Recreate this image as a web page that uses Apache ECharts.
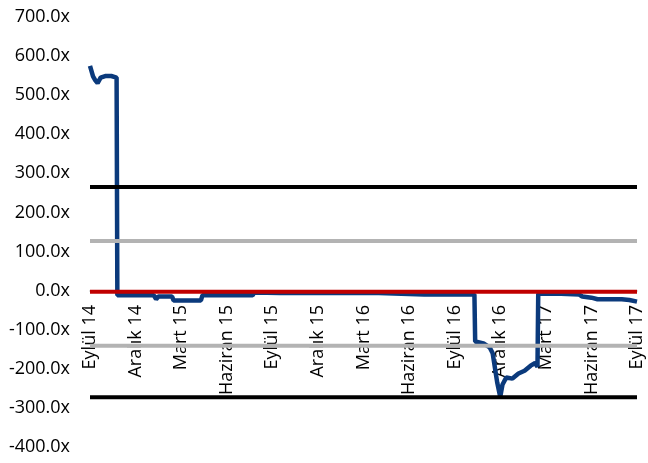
<!DOCTYPE html>
<html>
<head>
<meta charset="utf-8">
<script src="https://cdn.jsdelivr.net/npm/echarts@6/dist/echarts.min.js"></script>
<style>
  html, body { margin: 0; padding: 0; background: #fff; }
  #main { width: 648px; height: 463px; }
</style>
</head>
<body>
<div id="main"></div>
<script>
// quarterly tick labels, one every 3 months starting Sep 2014
let tickLabels = ['Eylül 14', 'Aralık 14', 'Mart 15', 'Haziran 15', 'Eylül 15', 'Aralık 15',
    'Mart 16', 'Haziran 16', 'Eylül 16', 'Aralık 16', 'Mart 17', 'Haziran 17', 'Eylül 17'];

// months since Sep 2014 and the ratio
let months = [0, 0.2, 0.35, 0.5, 0.7, 1.0, 1.4, 1.75, 1.8, 2.5, 3.5, 4.2, 4.35, 4.5, 5.4, 5.5, 7.3, 7.4,
    10.7, 10.8, 12.5, 15, 19.0, 19.1, 22, 25.3, 25.35, 25.9, 26.1, 26.3, 26.5, 26.8, 27.0, 27.15, 27.4,
    27.8, 28.2, 28.6, 29.0, 29.3, 29.45, 29.5, 31.0, 32.2, 32.4, 33.0, 33.4, 35.0, 35.5, 36];
let ratios = [575, 548, 538, 531, 545, 549, 549, 545, -12, -12, -12, -12, -22, -15, -15, -25, -25, -12,
    -12, -5, -6, -6, -6, -10, -10, -10, -130, -135, -140, -145, -160, -235, -272, -240, -222,
    -225, -212, -205, -192, -185, -195, -8, -8, -10, -15, -18, -22, -22, -24, -28];

// horizontal reference levels
let refLevels = [265, 127, -3, -141, -273];
let refColors = ['#000000', '#b3b3b3', '#c00000', '#b3b3b3', '#000000'];

let seriesData = months.map((m, i) => [m, ratios[i]]);

let series = [{
    type: 'line',
    data: seriesData,
    symbol: 'none',
    lineStyle: { color: '#0b3a7c', width: 4.5 },
    z: 2
}];

refLevels.forEach((v, i) => {
    series.push({
        type: 'line',
        data: [[0, v], [36, v]],
        symbol: 'none',
        lineStyle: { color: refColors[i], width: 4 },
        z: 3
    });
});

const option = {
    animation: false,
    grid: { left: 90, right: 11, top: 17, bottom: 16, outerBoundsMode: 'none', containLabel: false },
    textStyle: { fontFamily: 'Open Sans' },
    xAxis: {
        type: 'value',
        position: 'bottom',
        // lift the axis from the grid bottom up to the zero line (4 of 11 steps of 430px)
        offset: -156,
        min: 0,
        max: 36,
        interval: 3,
        axisLine: { onZero: false, lineStyle: { color: '#d9d9d9', width: 2 } },
        axisTick: { show: false },
        splitLine: { show: false },
        axisLabel: {
            rotate: 90,
            margin: 14,
            fontSize: 18,
            color: '#000',
            fontFamily: 'Open Sans',
            formatter: v => tickLabels[Math.round(v / 3)]
        }
    },
    yAxis: {
        type: 'value',
        min: -400,
        max: 700,
        interval: 100,
        axisLine: { show: false },
        axisTick: { show: false },
        splitLine: { show: false },
        axisLabel: {
            margin: 20,
            fontSize: 18,
            color: '#000',
            fontFamily: 'Open Sans',
            formatter: v => v.toFixed(1) + 'x'
        }
    },
    series: series
};

let plot = echarts.init(document.querySelector('#main'));
plot.setOption(option);
</script>
</body>
</html>
